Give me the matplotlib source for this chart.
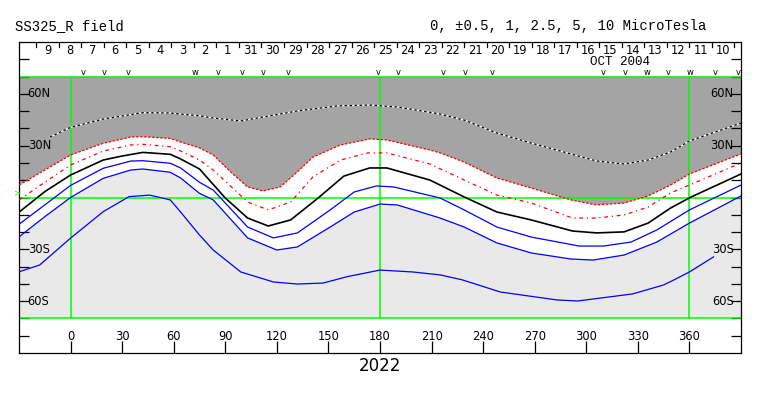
"""Source surface field map, CR 2022 (SS325_R)"""

import matplotlib.pyplot as plt
import numpy as np

# contour lines: Carrington longitude (deg), latitude (deg)
white_lon = [-12, 0, 19, 42, 58, 64, 75, 83, 99, 112, 132, 155, 174, 190, 215,
             229, 248, 268, 287, 306, 322, 336, 349, 360, 390]
white_lat = [35.0, 40.6, 45.4, 49.1, 48.9, 48.3, 47.3, 46.0, 44.3, 46.6, 50.1,
             53.0, 53.5, 52.4, 48.3, 44.8, 37.3, 31.5, 26.3, 21.1, 19.4, 21.7,
             26.3, 32.7, 43.1]

red1_lon = [-30, -15, 0, 19, 35, 42, 58, 64, 75, 83, 93, 103, 112, 122, 132,
            141, 157, 174, 184, 209, 215, 229, 248, 268, 291, 306, 322, 336,
            349, 360, 390]
red1_lat = [7.2, 15.9, 24.6, 31.4, 35.0, 35.2, 34.2, 32.1, 28.8, 24.6, 14.9,
            6.1, 3.8, 6.1, 14.9, 23.4, 30.4, 33.9, 33.3, 27.5, 25.8, 20.5, 11.3,
            5.5, -1.4, -4.3, -3.2, 0.9, 7.2, 13.6, 25.2]

red2_lon = [-30, -15, 0, 19, 35, 42, 58, 64, 75, 83, 103, 115, 128, 141, 157,
            173, 184, 209, 229, 248, 268, 292, 306, 322, 336, 349, 360, 390]
red2_lat = [-1.4, 8.8, 18.8, 26.9, 30.4, 30.8, 29.4, 26.9, 21.7, 15.9, -2.6,
            -7.2, -2.6, 11.9, 21.7, 25.8, 25.8, 19.4, 10.1, 1.4, -3.2, -11.9,
            -11.9, -10.1, -5.5, 2.6, 7.2, 20.0]

neutral_lon = [-30, -15, 0, 19, 30, 42, 58, 64, 75, 90, 103, 115, 128, 144,
               159, 174, 184, 209, 229, 248, 268, 292, 306, 322, 336, 349,
               361, 390]
neutral_lat = [-8.5, 3.4, 13.0, 21.7, 24.0, 26.1, 25.0, 22.3, 16.5, -0.3,
               -11.9, -16.5, -13.0, -0.3, 12.4, 17.1, 17.1, 10.1, 0.3, -8.4,
               -13.0, -19.4, -20.5, -19.9, -14.8, -6.1, 0.3, 13.6]

blue1_lon = [-30, -15, 0, 19, 35, 42, 58, 64, 75, 83, 103, 118, 132, 151, 165,
             178, 188, 215, 229, 248, 268, 296, 310, 326, 341, 360, 390]
blue1_lat = [-15.5, -4.3, 7.0, 16.9, 21.1, 21.3, 19.8, 17.1, 8.8, 4.3, -17.1,
             -23.4, -20.5, -7.2, 3.2, 6.7, 6.1, -0.3, -7.2, -17.1, -22.9,
             -28.1, -28.1, -25.8, -18.8, -7.2, 7.2]

blue2_lon = [-30, -15, 0, 19, 35, 42, 58, 64, 75, 83, 103, 120, 132, 151, 165,
             180, 190, 215, 229, 248, 268, 291, 304, 322, 341, 360, 390]
blue2_lat = [-22.8, -11.1, 0.0, 11.1, 15.9, 16.5, 14.6, 11.3, 2.4, -1.4, -23.4,
             -30.4, -28.6, -17.1, -8.4, -3.8, -4.3, -11.9, -17.1, -26.3, -32.1,
             -35.6, -36.2, -33.3, -25.8, -14.8, 0.9]

blue3_lon = [-30, -18, 0, 19, 34, 46, 58, 64, 75, 83, 99, 118, 132, 147, 161,
             180, 199, 215, 228, 250, 283, 295, 327, 345, 351, 360, 374]
blue3_lat = [-43.0, -39.1, -23.5, -8.2, 0.5, 1.4, -1.4, -8.4, -21.7, -30.4,
             -43.1, -48.9, -50.1, -49.5, -45.8, -42.0, -43.1, -44.8, -47.7,
             -54.7, -59.3, -59.9, -55.8, -50.6, -47.7, -43.1, -34.4]

# day-of-month strip along the top (Nov 9 back to Oct 10, 2004)
day_labels = ['9', '8', '7', '6', '5', '4', '3', '2', '1', '31', '30', '29',
              '28', '27', '26', '25', '24', '23', '22', '21', '20', '19', '18',
              '17', '16', '15', '14', '13', '12', '11', '10']
day0_lon = -13.4
day_step = 13.1

# observation markers
obs_lon = [7.6, 19.8, 33.7, 72.7, 86.1, 100.0, 112.3, 126.8, 179.1, 190.8,
           216.9, 229.7, 245.4, 310.0, 322.8, 335.6, 347.8, 360.6, 375.1, 388.5]
obs_sym = ['v', 'v', 'v', 'w', 'v', 'v', 'v', 'v', 'v', 'v',
           'v', 'v', 'v', 'v', 'v', 'w', 'v', 'w', 'v', 'v']

lon_ticks = list(range(0, 361, 30))
lat_labels = {60: '60N', 30: '30N', -30: '30S', -60: '60S'}

dark = '#a4a4a4'
light = '#e9e9e9'
green = '#00ff00'
lw = 0.9

fig = plt.figure(figsize=(7.63, 3.96), dpi=100)
ax = fig.add_axes([19 / 763, 43 / 396, 722 / 763, 311 / 396])
ax.set_xlim(-30, 390)
ax.set_ylim(-90, 90)

# polarity shading
ax.fill(np.r_[red1_lon, 390, -30], np.r_[red1_lat, 70, 70], color=dark,
        lw=0, zorder=1)
ax.fill(np.r_[blue2_lon, 390, -30], np.r_[blue2_lat, -70, -70], color=light,
        lw=0, zorder=1)

ax.hlines([70, 0, -70], -30, 390, color=green, lw=1.1, zorder=2)
ax.vlines([0, 180, 360], -70, 70, color=green, lw=1.1, zorder=2)

ax.plot(white_lon, white_lat, color='white', lw=lw, zorder=3)
ax.plot(white_lon, white_lat, color='black', lw=lw, ls=(0, (2, 2)), zorder=3)
ax.plot(red1_lon, red1_lat, color='red', lw=lw, ls=(0, (2, 1.2)), zorder=3)
ax.plot(red2_lon, red2_lat, color='red', lw=lw, ls=(0, (3, 3, 1, 3)), zorder=3)
ax.plot(neutral_lon, neutral_lat, color='black', lw=1.2, zorder=3)
for lo, la in [(blue1_lon, blue1_lat), (blue2_lon, blue2_lat),
               (blue3_lon, blue3_lat)]:
    ax.plot(lo, la, color='#0000ff', lw=lw, zorder=3)

# axes frame and ticks
for s in ax.spines.values():
    s.set_linewidth(0.9)
ax.set_yticks(range(-80, 81, 10))
ax.set_xticks(lon_ticks)
ax.set_xticklabels([])
ax.set_yticklabels([])
ax.tick_params(axis='y', direction='in', length=7, width=0.9,
               left=True, right=True)
ax.tick_params(axis='x', direction='in', length=9, width=0.9,
               bottom=True, top=False)

tk = dict(fontsize=8.3, family='DejaVu Sans', zorder=5)
for lon in lon_ticks:
    ax.text(lon, -80.7, str(lon), ha='center', va='center', **tk)
for lat, lab in lat_labels.items():
    ax.text(-25, lat, lab, ha='left', va='center', **tk)
    ax.text(385.8, lat, lab, ha='right', va='center', **tk)

# date strip
for i, d in enumerate(day_labels):
    ax.text(day0_lon + i * day_step, 85.1, d, ha='center', va='center', **tk)
for i in range(len(day_labels) + 1):
    x = day0_lon - day_step / 2 + i * day_step
    ax.plot([x, x], [87.0, 90], color='black', lw=0.9, zorder=5)
ax.text(319.9, 78.6, 'OCT 2004', ha='center', va='center',
        fontsize=9, family='Liberation Mono')
for lo, sym in zip(obs_lon, obs_sym):
    ax.text(lo, 72.4, sym, ha='center', va='center', fontsize=6,
            family='DejaVu Sans', zorder=5)

fig.text(15 / 763, 1 - 26 / 396, 'SS325_R field', ha='left', va='center',
         fontsize=10, family='Liberation Mono')
fig.text(430 / 763, 1 - 26 / 396, '0, \u00b10.5, 1, 2.5, 5, 10 MicroTesla',
         ha='left', va='center', fontsize=10, family='Liberation Mono')
fig.text(380 / 763, 1 - 366 / 396, '2022', ha='center', va='center',
         fontsize=12, family='DejaVu Sans')
fig.text(17 / 763, 1 - 193 / 396, '>', ha='center', va='center',
         fontsize=6, color=green)

fig.savefig('out.png', dpi=100)
